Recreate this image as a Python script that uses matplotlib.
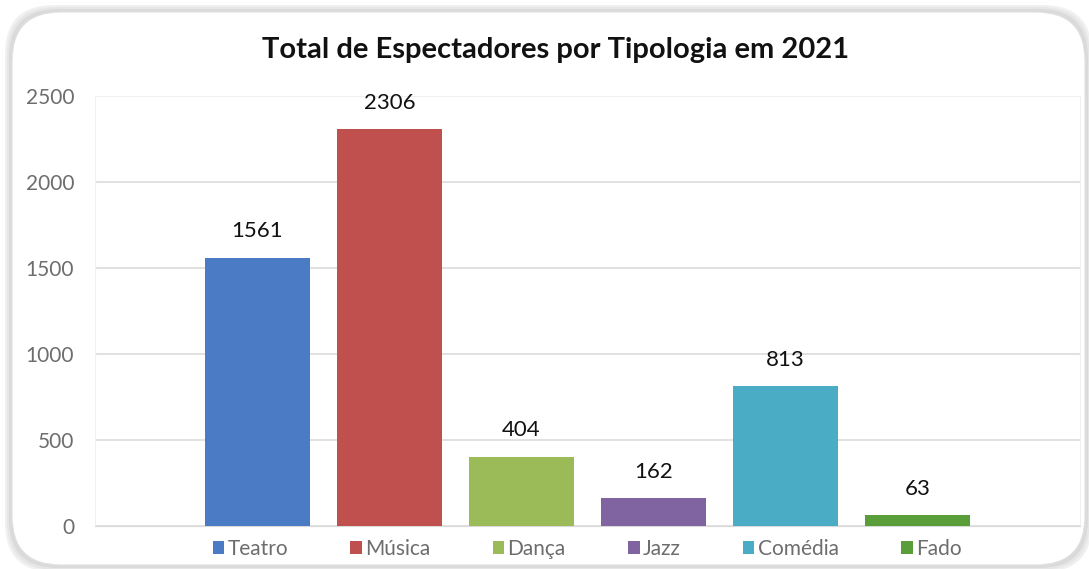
import matplotlib
matplotlib.use("Agg")
import matplotlib.pyplot as plt
from matplotlib.patches import FancyBboxPatch, Patch

plt.rcParams['font.family'] = ['Lato', 'DejaVu Sans']

categories = ["Teatro", "Música", "Dança", "Jazz", "Comédia", "Fado"]
values = [1561, 2306, 404, 162, 813, 63]
colors = ["#4A7BC4", "#C0504D", "#9BBB59", "#8064A2", "#4BACC6", "#5A9E3A"]
yticks = [0, 500, 1000, 1500, 2000, 2500]
title = "Total de Espectadores por Tipologia em 2021"

W, H = 1089, 569
fig = plt.figure(figsize=(W / 100, H / 100), dpi=100)
fig.patch.set_facecolor("white")

# card with soft shadow
for pad, col in [(7, "#f0f0f0"), (5, "#e6e6e6"), (3, "#dadada")]:
    sh = FancyBboxPatch(((12 - pad) / W, (4 - pad) / H), (1073 + 2 * pad) / W, (553 + 2 * pad) / H,
                        boxstyle="round,pad=0,rounding_size=0.045", transform=fig.transFigure,
                        facecolor=col, edgecolor="none", zorder=-10, mutation_aspect=W / H)
    fig.patches.append(sh)
card = FancyBboxPatch((12 / W, 4 / H), 1073 / W, 553 / H,
                      boxstyle="round,pad=0,rounding_size=0.045", transform=fig.transFigure,
                      facecolor="white", edgecolor="#e0e0e0", lw=0.8, zorder=-5, mutation_aspect=W / H)
fig.patches.append(card)

ax = fig.add_axes([95 / W, 1 - 526 / H, (1080 - 95) / W, (526 - 96) / H])
ax.set_zorder(1)
ax.set_facecolor("none")
x = list(range(len(categories)))
bars = ax.bar(x, values, width=0.79, color=colors, zorder=3)
ax.set_xlim(-1.23, 6.23)
ax.set_ylim(0, 2500)
ax.set_yticks(yticks)
ax.set_yticklabels([str(t) for t in yticks], color="#6d6d6d", fontsize=15)
ax.tick_params(axis="y", length=0, pad=15)
ax.set_xticks([])
ax.grid(axis="y", color="#dcdcdc", lw=1.2, zorder=0)
for s in ["top", "right", "left"]:
    ax.spines[s].set_color("#f0f0f0")
ax.spines["bottom"].set_color("#d9d9d9")

for xi, v in zip(x, values):
    ax.annotate(str(v), (xi, v), xytext=(0, 19), textcoords="offset points",
                ha="center", va="center", fontsize=16, color="#111111")

fig.text(556 / W, 1 - 50 / H, title, ha="center", va="center", fontsize=21, fontweight="bold", color="#111111")

handles = [Patch(facecolor=c, edgecolor="none") for c in colors]
leg = fig.legend(handles, categories, loc="center", bbox_to_anchor=(587 / W, 1 - 549 / H), ncol=6,
                 frameon=False, handlelength=0.55, handleheight=0.55, handletextpad=0.15, columnspacing=3.0,
                 fontsize=15)
for t in leg.get_texts():
    t.set_color("#6d6d6d")

fig.savefig("out.png", dpi=100, facecolor=fig.get_facecolor())
